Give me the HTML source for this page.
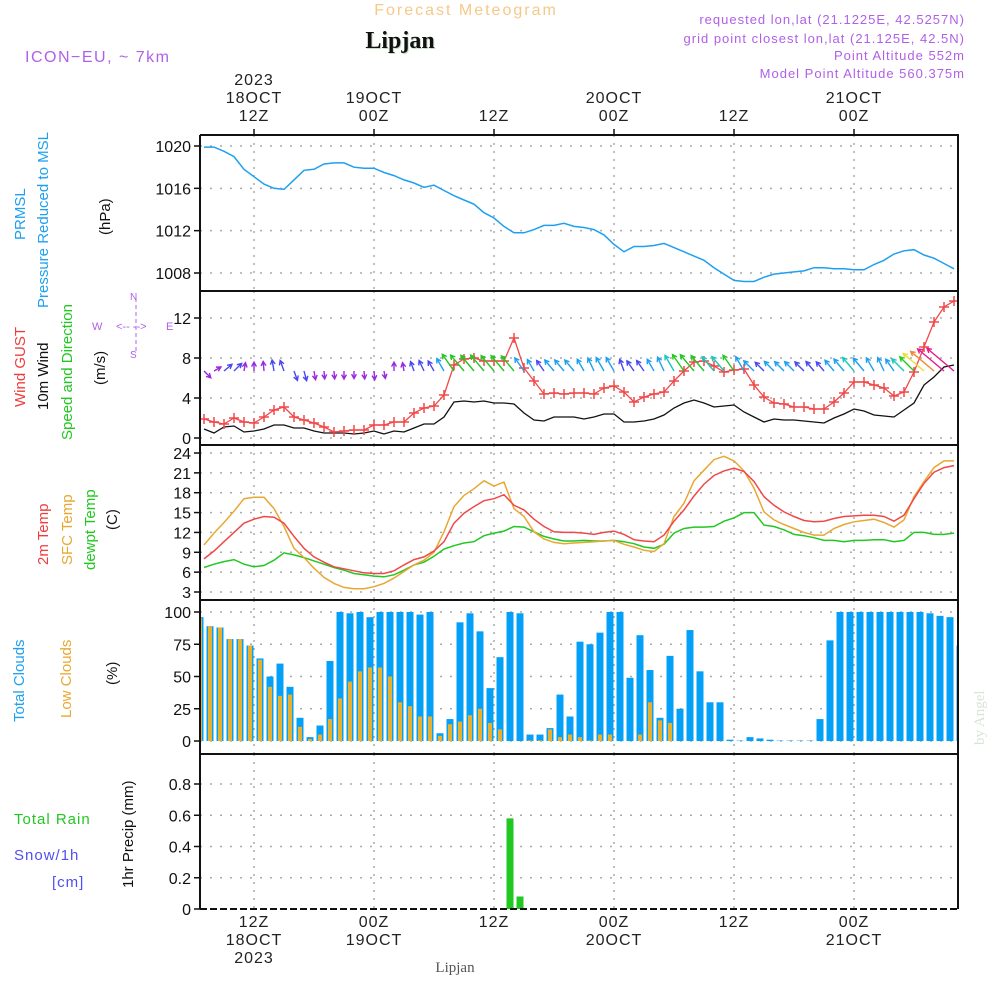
<!DOCTYPE html>
<html><head><meta charset="utf-8"><style>
html,body{margin:0;padding:0;background:#fff;}
svg{display:block;font-family:"Liberation Sans",sans-serif;}
</style></head><body>
<svg id="chart" width="1000" height="1000" viewBox="0 0 1000 1000">
<text x="466" y="15" font-size="16" fill="#f5c98a" text-anchor="middle" letter-spacing="2">Forecast Meteogram</text>
<text x="401" y="49" font-size="24" font-weight="bold" fill="#c8dcc8" text-anchor="middle" font-family="Liberation Serif,serif">Lipjan</text>
<text x="400" y="48" font-size="24" font-weight="bold" fill="#111" text-anchor="middle" font-family="Liberation Serif,serif">Lipjan</text>
<text x="25" y="62" font-size="16" fill="#b060e8" letter-spacing="1.5">ICON−EU, ~ 7km</text>
<g font-size="13" fill="#b060e8" text-anchor="end" letter-spacing="1">
<text x="965" y="24">requested lon,lat (21.1225E, 42.5257N)</text>
<text x="965" y="43">grid point closest lon,lat (21.125E, 42.5N)</text>
<text x="965" y="60">Point Altitude 552m</text>
<text x="965" y="78">Model Point Altitude 560.375m</text>
</g>
<g id="plots"></g>
<g font-size="15">
<text transform="translate(25,240) rotate(-90)" fill="#1ea0f0">PRMSL</text>
<text transform="translate(48,308) rotate(-90)" fill="#1ea0f0">Pressure Reduced to MSL</text>
<text transform="translate(110,235) rotate(-90)" fill="#111">(hPa)</text>
<text transform="translate(25,407) rotate(-90)" fill="#f03c3c">Wind GUST</text>
<text transform="translate(48,410) rotate(-90)" fill="#111">10m Wind</text>
<text transform="translate(72,440) rotate(-90)" fill="#22c822">Speed and Direction</text>
<text transform="translate(105,385) rotate(-90)" fill="#111">(m/s)</text>
<text transform="translate(48,565) rotate(-90)" fill="#f03c3c">2m Temp</text>
<text transform="translate(72,565) rotate(-90)" fill="#e8a830">SFC Temp</text>
<text transform="translate(95,570) rotate(-90)" fill="#22c822">dewpt Temp</text>
<text transform="translate(117,530) rotate(-90)" fill="#111">(C)</text>
<text transform="translate(24,722) rotate(-90)" fill="#1ea0f0">Total Clouds</text>
<text transform="translate(71,718) rotate(-90)" fill="#e8a830">Low Clouds</text>
<text transform="translate(117,685) rotate(-90)" fill="#111">(%)</text>
<text transform="translate(133,888) rotate(-90)" fill="#111">1hr Precip (mm)</text>
<text x="14" y="824" fill="#22c822" letter-spacing="1">Total  Rain</text>
<text x="14" y="860" fill="#5050f0" letter-spacing="1">Snow/1h</text>
<text x="52" y="887" fill="#5050f0" letter-spacing="1">[cm]</text>
</g>
<g font-size="11" fill="#b060e8">
<text x="92" y="330">W</text><text x="132" y="300" transform="rotate(-90,132,300)"></text>
<text x="166" y="330">E</text>
<text x="116" y="330">&lt;-- --&gt;</text>
<line x1="136" y1="298" x2="136" y2="352" stroke="#b060e8" stroke-dasharray="4,3"/>
<text x="130" y="300" font-size="10">N</text><text x="130" y="358" font-size="10">S</text>
</g>
<text transform="translate(984,745) rotate(-90)" font-size="15" fill="#d8e4d8" font-family="Liberation Serif,serif">by Angel</text>
<text x="455" y="972" font-size="15" fill="#555" text-anchor="middle" font-family="Liberation Serif,serif">Lipjan</text>
</svg>
<script>
const hours = [];
for (let i = 0; i < 76; i++) hours.push(i);
const pressure = [1019.9,1019.9,1019.5,1019.0,1017.8,1017.1,1016.4,1016.0,1015.9,1016.8,1017.7,1017.8,1018.3,1018.4,1018.4,1018.0,1017.9,1017.9,1017.5,1017.2,1016.8,1016.5,1016.1,1016.3,1015.8,1015.3,1014.9,1014.5,1013.7,1013.2,1012.4,1011.8,1011.8,1012.1,1012.5,1012.5,1012.7,1012.4,1012.3,1012.1,1011.6,1010.7,1010.0,1010.5,1010.5,1010.6,1010.8,1010.4,1010.0,1009.6,1009.2,1008.5,1007.9,1007.3,1007.2,1007.2,1007.6,1007.9,1008.0,1008.1,1008.2,1008.5,1008.5,1008.4,1008.4,1008.3,1008.3,1008.8,1009.2,1009.8,1010.1,1010.2,1009.7,1009.4,1008.9,1008.4];
const gust = [1.9,1.6,1.4,2.0,1.6,1.5,2.1,2.8,3.1,2.1,1.8,1.5,1.1,0.6,0.7,0.8,0.8,1.3,1.3,1.6,1.6,2.5,3.0,3.2,4.3,7.3,7.9,8.0,7.7,7.7,7.7,10.0,7.0,5.7,4.4,4.5,4.4,4.5,4.5,4.4,5.0,5.2,4.6,3.6,4.1,4.4,4.6,5.7,6.7,7.6,7.7,7.2,6.6,6.8,6.9,5.3,4.1,3.5,3.4,3.1,3.1,2.9,2.9,3.6,4.5,5.6,5.6,5.3,5.0,4.2,4.6,6.6,9.1,11.6,13.1,13.7];
const wind = [0.9,0.5,1.1,1.2,0.6,0.7,0.9,1.3,1.3,1.0,1.0,0.7,0.5,0.5,0.5,0.4,0.5,0.7,0.4,0.7,0.6,1.0,1.4,1.4,2.1,3.6,3.7,3.6,3.7,3.5,3.5,3.4,2.5,1.8,1.7,2.1,2.1,2.1,1.9,2.1,2.4,2.4,1.6,1.6,1.7,1.9,2.3,3.0,3.5,3.8,3.5,3.1,3.2,3.3,2.6,2.1,1.6,1.9,1.8,1.8,1.7,1.6,1.5,2.0,2.4,2.9,2.7,2.3,2.2,2.1,2.8,3.5,5.3,6.1,7.1,7.3];
const windDir = [135,60,50,45,10,0,-5,-10,-20,160,165,170,175,175,180,180,175,175,170,0,-10,-20,-25,-30,-30,-35,-40,-40,-40,-40,-40,-40,-35,-30,-35,-40,-40,-40,-30,-25,-30,-30,-20,-35,-35,-30,-25,-30,-35,-40,-40,-40,-40,-35,-30,-45,-45,-45,-45,-45,-45,-40,-40,-40,-40,-40,-40,-30,-25,-35,-45,-45,-50,-50,-50,-50];
const temp2m = [8.0,9.2,10.6,12.0,13.4,14.0,14.4,14.3,13.4,11.4,9.6,8.3,7.5,6.8,6.5,6.2,5.9,5.8,5.8,6.2,7.1,7.9,8.3,9.2,10.6,13.4,14.9,15.9,16.8,17.1,17.7,16.1,15.4,14.0,12.9,12.1,12.0,12.0,11.9,11.7,12.0,12.2,11.7,10.9,10.7,10.6,11.6,13.7,15.4,17.5,19.3,20.6,21.3,21.7,21.2,19.7,17.4,16.1,15.1,14.4,13.8,13.6,13.7,14.1,14.4,14.5,14.6,14.6,14.4,13.7,14.6,17.1,19.4,21.1,21.8,22.1];
const tempSfc = [10.1,11.9,13.5,15.2,17.1,17.3,17.3,15.6,12.9,9.6,8.2,6.6,5.2,4.3,3.7,3.5,3.5,3.8,4.3,5.1,6.1,7.1,7.8,9.0,12.1,15.9,17.6,18.6,19.8,19.0,19.6,15.6,14.4,12.1,11.0,10.5,10.3,10.4,10.5,10.6,10.7,10.8,10.2,9.8,9.3,9.1,10.3,14.4,16.4,19.8,21.4,23.0,23.5,22.8,21.3,18.7,15.1,13.9,13.2,12.6,12.0,11.6,11.6,12.6,13.2,13.6,13.8,14.0,13.5,12.8,13.9,17.4,19.7,21.8,22.8,22.8];
const dewpt = [6.7,7.2,7.6,7.9,7.2,6.8,7.0,7.8,8.9,8.6,8.2,7.7,7.2,6.7,6.3,5.8,5.6,5.4,5.3,5.6,6.3,7.1,7.5,8.4,9.5,10.0,10.4,10.6,11.5,11.9,12.2,12.9,12.8,12.1,11.4,11.0,10.7,10.7,10.8,10.7,10.7,10.8,10.6,10.3,9.8,9.6,10.2,11.9,12.6,12.8,12.8,12.9,13.7,14.2,15.0,15.0,13.1,12.9,12.4,11.7,11.5,11.2,10.8,10.8,10.6,10.8,10.8,10.9,10.9,10.6,10.8,12.0,12.0,11.7,11.7,11.9];
const totalClouds = [96,89,88,79,79,74,64,50,60,42,18,3,12,62,100,99,100,96,100,100,100,100,98,100,6,17,92,99,85,41,65,100,99,5,5,10,36,19,77,75,84,100,100,49,82,55,18,66,25,86,54,30,30,1,0.3,3,2,1,0.3,0.3,0.3,0.3,17,78,100,100,100,100,100,100,100,100,100,99,97,96,74];
const lowClouds = [95,89,88,79,79,74,63,42,35,36,11,1.5,5,17,33,46,54,57,57,50,30,27,19,19,4,13,15,20,25,14,9,0,0,0.5,0.5,9,3,5,3,0.5,5,5,0,0,5,30,16,14,0,0,0,0,0,0,0,0,0,0,0,0,0,0,0,0,0,0,0,0,0,0,0,0,0,0,0,0,0];
const precip = new Array(77).fill(0);
precip[31] = 0.58; precip[32] = 0.08;
const pTicks = [1008,1012,1016,1020];
const wTicks = [0,4,8,12];
const tTicks = [3,6,9,12,15,18,21,24];
const cTicks = [0,25,50,75,100];
const rTicks = [0,0.2,0.4,0.6,0.8];
const timeTicks = [5,17,29,41,53,65];
const topTimeLabels = [["2023","18OCT","12Z"],["19OCT","00Z"],["12Z"],["20OCT","00Z"],["12Z"],["21OCT","00Z"]];
const botTimeLabels = [["12Z","18OCT","2023"],["00Z","19OCT"],["12Z"],["00Z","20OCT"],["12Z"],["00Z","21OCT"]];

const NS = "http://www.w3.org/2000/svg";
const g = document.getElementById('plots');
const L = 200, R = 958;
function el(tag, attrs, parent) {
  const e = document.createElementNS(NS, tag);
  for (const k in attrs) e.setAttribute(k, attrs[k]);
  (parent || g).appendChild(e);
  return e;
}
const xT = t => 204 + 10 * t;
const xBar = k => 200 + 10 * k;
function lin(v0, y0, v1, y1) { return v => y0 + (v - v0) * (y1 - y0) / (v1 - v0); }
const yP = lin(1020, 146, 1008, 273);
const yW = lin(0, 438, 12, 318);
const yTm = lin(24, 453, 3, 592);
const yC = lin(0, 741, 100, 612);
const yR = lin(0, 909, 0.8, 784);

const panels = [
  {top:135, bot:291, ticks:pTicks, f:yP, fmt:v=>v, name:'pressure'},
  {top:291, bot:445, ticks:wTicks, f:yW, fmt:v=>v, name:'wind'},
  {top:445, bot:600, ticks:tTicks, f:yTm, fmt:v=>v, name:'temperature'},
  {top:600, bot:754, ticks:cTicks, f:yC, fmt:v=>v, name:'clouds'},
  {top:754, bot:909, ticks:rTicks, f:yR, fmt:v=>v===0?'0':v.toFixed(1), name:'precip'}
];
panels.forEach(p => {
  const pg = el('g', {});
  
  
  p.ticks.forEach(v => {
    const y = p.f(v);
    const gl = el('line', {x1:L, x2:R, y1:y, y2:y, stroke:'#aaa', 'stroke-width':1.5, 'stroke-dasharray':'2,8'}, pg);
    
    
    el('line', {x1:L-6, x2:L, y1:y, y2:y, stroke:'#111', 'stroke-width':1.5}, pg);
    const tx = el('text', {x:L-9, y:y+6, 'font-size':16, 'text-anchor':'end', fill:'#111'}, pg);
    tx.textContent = p.fmt(v);
    
    
  });
  timeTicks.forEach(t => {
    el('line', {x1:xT(t), x2:xT(t), y1:p.top, y2:p.bot, stroke:'#aaa', 'stroke-width':1.5, 'stroke-dasharray':'2,6'}, pg);
  });
  p.g = pg;
});

// pressure line
function poly(arr, f, color, w, parent, name) {
  const pts = arr.map((v, i) => xT(i) + ',' + f(v).toFixed(1)).join(' ');
  const e = el('polyline', {points:pts, fill:'none', stroke:color, 'stroke-width':w}, parent);
  
  
  return e;
}
poly(pressure, yP, '#1ea0f0', 1.5, panels[0].g, 'pressure-line');

// wind
poly(wind, yW, '#111', 1.3, panels[1].g, 'wind-speed-line');
poly(gust, yW, '#f04848', 1.3, panels[1].g, 'wind-gust-line');
gust.forEach((v, i) => {
  const x = xT(i), y = yW(v);
  const m = el('path', {d:`M${x-5},${y}H${x+5}M${x},${y-5}V${y+5}`, stroke:'#f04848', 'stroke-width':1.5}, panels[1].g);
  
  
});
function windColor(s) {
  if (s < 1) return '#9a28e0';
  if (s < 1.8) return '#4a48f0';
  if (s < 2.8) return '#1ea0f0';
  if (s < 3.3) return '#18c8b8';
  if (s < 4.5) return '#22c822';
  if (s < 5.6) return '#e8e030';
  if (s < 6.8) return '#f08830';
  return '#e81890';
}
wind.forEach((s, i) => {
  const a = windDir[i] * Math.PI / 180;
  const len = 6 + 4 * s;
  const x0 = xT(i), y0 = 371;
  const x1 = x0 + len * Math.sin(a), y1 = y0 - len * Math.cos(a);
  const c = windColor(s);
  const ang = Math.atan2(y1 - y0, x1 - x0);
  const h = 5;
  const d = `M${x0},${y0}L${x1},${y1}M${x1 - h*Math.cos(ang-0.5)},${y1 - h*Math.sin(ang-0.5)}L${x1},${y1}L${x1 - h*Math.cos(ang+0.5)},${y1 - h*Math.sin(ang+0.5)}`;
  const ar = el('path', {d:d, stroke:c, 'stroke-width':1.4, fill:'none'}, panels[1].g);
  
  
});

// temperature
poly(dewpt, yTm, '#22c822', 1.5, panels[2].g, 'dewpoint-line');
poly(tempSfc, yTm, '#e8a830', 1.5, panels[2].g, 'sfc-temp-line');
poly(temp2m, yTm, '#f04848', 1.5, panels[2].g, '2m-temp-line');

// clouds
totalClouds.forEach((v, k) => {
  const x = xBar(k) - 3.5, y = yC(v);
  const x0 = Math.max(x, L), x1 = Math.min(x + 7, R);
  if (x1 <= x0) return;
  const b = el('rect', {x:x0, y:y, width:x1 - x0, height:yC(0) - y, fill:'#04a0f8'}, panels[3].g);
  
  
});
lowClouds.forEach((v, k) => {
  if (v <= 0) return;
  const x = xBar(k) - 2, y = yC(v);
  const x0 = Math.max(x, L), x1 = Math.min(x + 4, R);
  if (x1 <= x0) return;
  const b = el('rect', {x:x0, y:y, width:x1 - x0, height:yC(0) - y, fill:'#e8b030'}, panels[3].g);
  
  
});

// precip
precip.forEach((v, k) => {
  if (v <= 0) return;
  const x = xBar(k) - 3.5, y = yR(v);
  const b = el('rect', {x:x, y:y, width:7, height:yR(0) - y, fill:'#22c822'}, panels[4].g);
  
  
});
const bl = el('line', {x1:L, x2:R, y1:909, y2:909, stroke:'#111', 'stroke-width':2, 'stroke-dasharray':'7,3'});



// frames
[135,291,445,600,754].forEach(y => el('line', {x1:L, x2:R+1, y1:y, y2:y, stroke:'#111', 'stroke-width':2}));
el('line', {x1:L, x2:L, y1:135, y2:909, stroke:'#111', 'stroke-width':2});
el('line', {x1:R, x2:R, y1:135, y2:909, stroke:'#111', 'stroke-width':2});

// time labels
timeTicks.forEach((t, j) => {
  const x = xT(t);
  el('line', {x1:x, x2:x, y1:129, y2:135, stroke:'#111', 'stroke-width':1.5});
  const top = topTimeLabels[j];
  top.forEach((s, r) => {
    const tx = el('text', {x:x, y:127 - 6 - (top.length - 1 - r) * 18, 'font-size':16, 'text-anchor':'middle', fill:'#222', 'letter-spacing':1});
    tx.textContent = s;
    
    
  });
  botTimeLabels[j].forEach((s, r) => {
    const tx = el('text', {x:x, y:927 + r * 18, 'font-size':16, 'text-anchor':'middle', fill:'#222', 'letter-spacing':1});
    tx.textContent = s;
    
    
  });
});
</script>
</body></html>
